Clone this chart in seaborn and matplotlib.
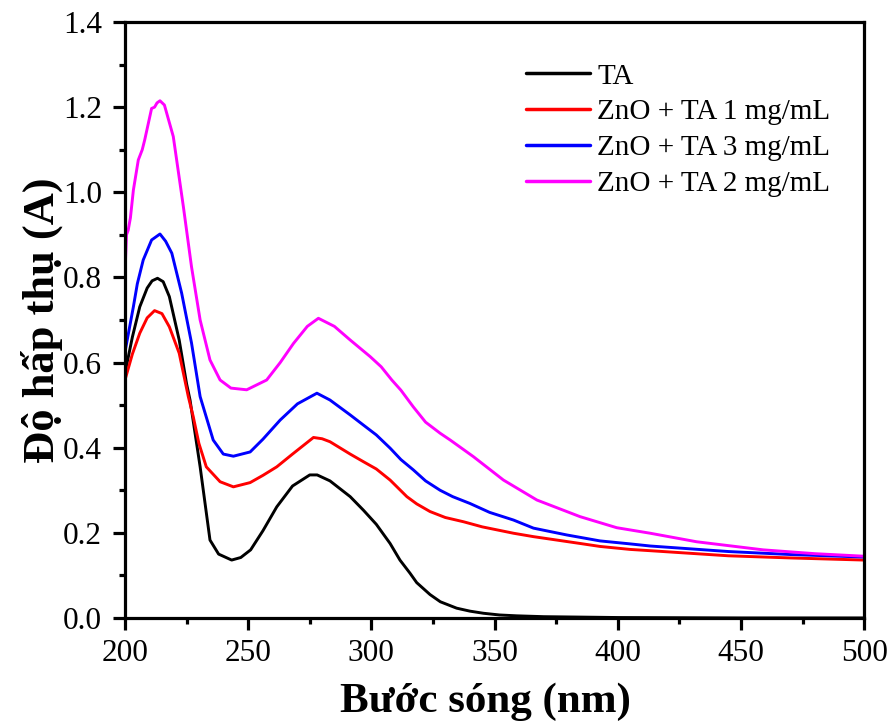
import numpy as np
import pandas as pd
import matplotlib
matplotlib.use("Agg")
import matplotlib.pyplot as plt
import seaborn as sns

# ---- data ----
ta_x = [200, 203, 206, 209, 211, 213.2, 215.5, 218, 222, 225, 226.4, 230.5, 234.5, 238, 243.3, 247, 251, 256, 261.6, 268,
        275, 278, 283.2, 291.4, 296.8, 302, 307.6, 311.6, 315.7, 318.4, 323.8, 328, 334.6, 340, 345.5, 352, 359, 370, 400, 450, 500]
ta_y = [0.575, 0.66, 0.731, 0.775, 0.792, 0.798, 0.79, 0.755, 0.653, 0.55, 0.512, 0.355, 0.183, 0.150, 0.136, 0.142, 0.16, 0.205, 0.261, 0.31,
        0.336, 0.336, 0.322, 0.285, 0.253, 0.22, 0.175, 0.136, 0.105, 0.083, 0.055, 0.038, 0.023, 0.016, 0.011, 0.007, 0.005, 0.003, 0.001, 0.0, 0.0]

r1_x = [200, 203, 206, 209, 212, 215, 218, 222, 225.7, 227.7, 230, 233, 238.6, 244, 250.8, 256, 261.6, 268, 276.5, 280,
        283.2, 291.4, 296.8, 302, 307.6, 314.4, 318.4, 323.8, 330, 337.4, 345, 357.7, 365.8, 384.7, 392.8, 405, 413.2, 445, 470, 500]
r1_y = [0.559, 0.62, 0.669, 0.705, 0.722, 0.715, 0.684, 0.622, 0.52, 0.473, 0.41, 0.355, 0.32, 0.308, 0.318, 0.335, 0.355, 0.385, 0.424, 0.421,
        0.414, 0.385, 0.367, 0.35, 0.324, 0.285, 0.268, 0.25, 0.236, 0.226, 0.214, 0.199, 0.191, 0.175, 0.168, 0.161, 0.158, 0.146, 0.141, 0.136]

r3_x = [200, 203.4, 205, 207.4, 210.8, 214.2, 216.5, 219, 223, 227, 230.5, 235.8, 239.9, 244, 250.8, 256, 263, 270, 277.9, 283.2,
        291.4, 296.8, 302, 307.6, 312, 317, 322, 327.9, 333, 340, 348, 357.7, 365.8, 379.3, 392.8, 405, 413.2, 445, 470, 500]
r3_y = [0.625, 0.731, 0.785, 0.841, 0.888, 0.902, 0.885, 0.857, 0.763, 0.646, 0.52, 0.418, 0.385, 0.38, 0.39, 0.42, 0.465, 0.503, 0.528, 0.512,
        0.477, 0.453, 0.43, 0.399, 0.372, 0.348, 0.322, 0.30, 0.285, 0.269, 0.248, 0.23, 0.211, 0.195, 0.181, 0.174, 0.169, 0.156, 0.149, 0.143]

r2_x = [200, 200.6, 201.3, 202.2, 203.4, 205.4, 207, 208, 210.8, 212, 213, 214.2, 216, 219.6, 223.7, 227, 230.5, 234.5, 238.6, 243,
        249.4, 257.5, 263, 268.4, 274, 278.5, 285, 291.4, 299.5, 304, 308.3, 312, 317, 322, 327.9, 332, 341.4, 353.6, 367.2,
        384.7, 399.6, 413.2, 432, 459, 480, 500]
r2_y = [0.81, 0.9, 0.911, 0.94, 1.005, 1.076, 1.10, 1.123, 1.197, 1.20, 1.21, 1.215, 1.205, 1.131, 0.966, 0.825, 0.70, 0.606, 0.559, 0.54,
        0.536, 0.559, 0.60, 0.645, 0.685, 0.704, 0.685, 0.653, 0.614, 0.59, 0.559, 0.535, 0.496, 0.46, 0.434, 0.418, 0.379, 0.324, 0.277,
        0.238, 0.212, 0.199, 0.179, 0.16, 0.151, 0.145]

labels = ["TA", "ZnO + TA 1 mg/mL", "ZnO + TA 3 mg/mL", "ZnO + TA 2 mg/mL"]
colors = ["#000000", "#FF0000", "#0000FF", "#FF00FF"]

xticks = [200, 250, 300, 350, 400, 450, 500]
yticks = [0.0, 0.2, 0.4, 0.6, 0.8, 1.0, 1.2, 1.4]

frames = []
for lab, xs, ys in zip(labels, [ta_x, r1_x, r3_x, r2_x], [ta_y, r1_y, r3_y, r2_y]):
    frames.append(pd.DataFrame({"x": xs, "y": ys, "series": lab}))
df = pd.concat(frames, ignore_index=True)

sns.set_style("ticks")
plt.rcParams["font.family"] = ["Liberation Serif", "DejaVu Serif"]
plt.rcParams["text.color"] = "black"
plt.rcParams["axes.labelcolor"] = "black"
plt.rcParams["xtick.color"] = "black"
plt.rcParams["ytick.color"] = "black"
plt.rcParams["axes.edgecolor"] = "black"

fig = plt.figure(figsize=(8.89, 7.27), dpi=100)
ax = fig.add_axes([0.1406, 0.150, 0.8314, 0.8197])

sns.lineplot(data=df, x="x", y="y", hue="series", hue_order=labels,
             palette=dict(zip(labels, colors)), estimator=None, sort=False,
             linewidth=2.1, ax=ax)

ax.set_xlim(200, 500)
ax.set_ylim(0, 1.4)
ax.set_xticks(xticks)
ax.set_xticklabels([str(v) for v in xticks])
ax.set_yticks(yticks)
ax.set_yticklabels([f"{v:.1f}" for v in yticks])
ax.set_xticks(np.arange(225, 500, 50), minor=True)
ax.set_yticks(np.arange(0.1, 1.4, 0.2), minor=True)

for sp in ax.spines.values():
    sp.set_linewidth(2.3)
    sp.set_color("black")
ax.tick_params(axis="both", which="major", direction="out", length=8.5, width=2.3,
               labelsize=22.5, colors="black")
ax.tick_params(axis="x", which="major", pad=7)
ax.tick_params(axis="y", which="major", pad=8)
ax.tick_params(axis="both", which="minor", direction="out", length=4.5, width=2.3, colors="black")

ax.set_xlabel("Bước sóng (nm)", fontsize=31, fontweight="bold", color="black")
ax.set_ylabel("Độ hấp thụ (A)", fontsize=32, fontweight="bold", labelpad=0, color="black")
ax.xaxis.set_label_coords(0.488, -0.108)
ax.xaxis.label.set_verticalalignment("top")

leg = ax.legend(loc="upper right", bbox_to_anchor=(0.99, 0.975), frameon=False,
                fontsize=21, handlelength=2.2, handletextpad=0.25, labelspacing=0.32)
for h in leg.get_lines():
    h.set_linewidth(2.5)
for t in leg.get_texts():
    t.set_color("black")

fig.savefig("out.png", dpi=100)
